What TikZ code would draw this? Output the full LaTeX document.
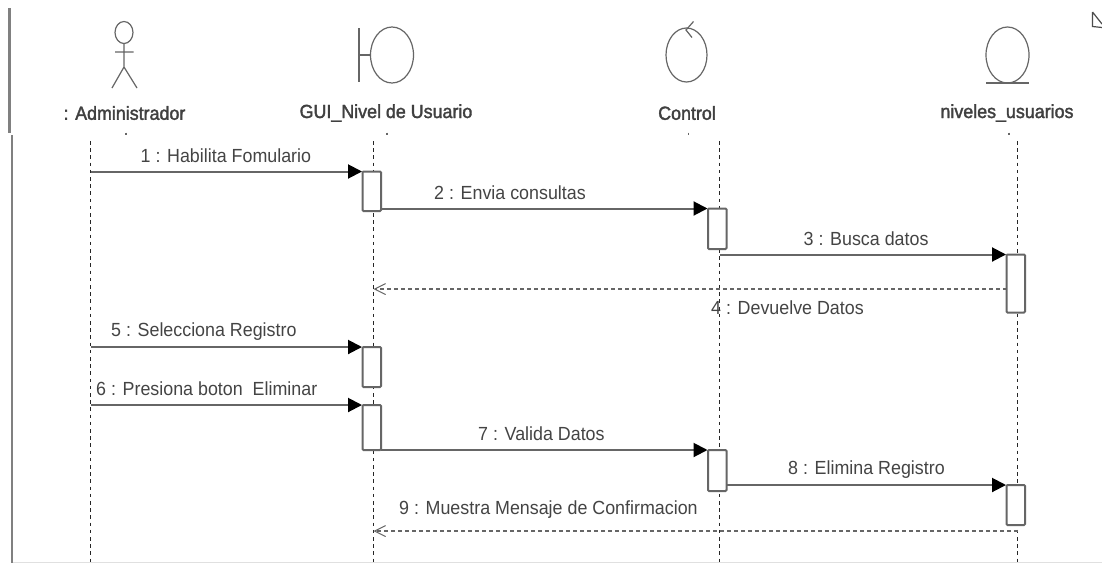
\documentclass[tikz,border=0pt]{standalone}
\usepackage{fontspec}
\setmainfont[FakeStretch=0.94]{Liberation Sans}
\newfontfamily\headfont[FakeBold=1.8,FakeStretch=0.94]{Liberation Sans}
\usetikzlibrary{arrows.meta,shapes.geometric}
\definecolor{ink}{HTML}{666666}
\definecolor{txt}{HTML}{444444}
\tikzset{
  x=1pt,y=-1pt,
  msg/.style={draw=ink,line width=2pt,-{Triangle[length=14pt,width=14pt,fill=black,color=black]},shorten >=0.5pt},
  reply/.style={draw=ink,line width=1.6pt,dash pattern=on 4pt off 3pt,-{Straight Barb[length=11pt,width=11pt,line width=1pt,color=ink]}},
  life/.style={draw=black!85,line width=1.2pt,dash pattern=on 3.6pt off 3.6pt},
  act/.style={draw=ink,line width=2pt,fill=white,rounded corners=1pt,minimum width=18.5pt,inner sep=0pt,outer sep=0pt,anchor=north west},
  lab/.style={text=txt,font=\fontsize{19}{21}\selectfont,inner sep=0pt,anchor=west},
  head/.style={text=black!75,font=\headfont\fontsize{19}{21}\selectfont,inner sep=0pt},
  sym/.style={draw=black!60,line width=1.2pt},
  frameline/.style={draw=black!50,line width=2.2pt},
  tick/.style={draw=black!60,line width=1.2pt},
}
\begin{document}
\begin{tikzpicture}
\useasboundingbox (0,0) rectangle (1102,563);
\fill[white] (0,0) rectangle (1102,563);
% frame
\coordinate (fa) at (9.5,8); \coordinate (fb) at (9.5,133);
\coordinate (fc) at (12,135); \coordinate (fd) at (12,563);
\coordinate (fe) at (13,562.3); \coordinate (ff) at (1102,562.3);
\draw[frameline] (fa) -- (fb);
\draw[frameline] (fc) -- (fd);
\draw[draw=black!12,line width=1.2pt] (fe) -- (ff);
% cursor mark
\draw[draw=black!70,line width=1.2pt] (1092.5,12) -- (1092.5,26.5) -- (1102,27.5) (1092.5,12) -- (1102,24);
% actor
\node[sym,draw,ellipse,minimum width=18pt,minimum height=22pt,inner sep=0pt] at (124,32.5) (ahead) {};
\coordinate (ahip) at (124,67); \coordinate (aarmL) at (115,52); \coordinate (aarmR) at (133.5,52);
\coordinate (alegL) at (112,88); \coordinate (alegR) at (137,88);
\draw[sym] (ahead.south) -- (ahip) (aarmL) -- (aarmR) (alegL) -- (ahip) -- (alegR);
% boundary
\node[sym,draw,ellipse,minimum width=43pt,minimum height=56pt,inner sep=0pt] at (392,55) (bcirc) {};
\coordinate (bbarT) at (359,28); \coordinate (bbarB) at (359,82); \coordinate (bbarM) at (359,55);
\draw[sym] (bbarT) -- (bbarB) (bbarM) -- (bcirc.west);
% control
\node[sym,draw,ellipse,minimum width=41pt,minimum height=54pt,inner sep=0pt] at (686.5,55) (ccirc) {};
\coordinate (ctipA) at (693.5,21.5); \coordinate (ctipB) at (686,30); \coordinate (ctipC) at (692,37.5);
\draw[sym] (ctipA) -- (ctipB) -- (ctipC);
% entity
\node[sym,draw,ellipse,minimum width=43pt,minimum height=56pt,inner sep=0pt] at (1007.5,55) (ecirc) {};
\coordinate (ebarL) at (986,83); \coordinate (ebarR) at (1028.5,83);
\draw[sym,line width=1.6pt] (ebarL) -- (ebarR);
% titles
\node[head] (t1) at (124.5,113) {: Administrador};
\node[head] (t2) at (386,113) {GUI\_Nivel de Usuario};
\node[head] (t3) at (687,113) {Control};
\node[head] (t4) at (1007,113) {niveles\_usuarios};
% ticks under titles
\coordinate (k1a) at (126,132.5); \coordinate (k1b) at (126,134.5);
\coordinate (k2a) at (387,132.5); \coordinate (k2b) at (387,134.5);
\coordinate (k3a) at (688.5,132.5); \coordinate (k3b) at (688.5,134.5);
\coordinate (k4a) at (1009,132.5); \coordinate (k4b) at (1009,134.5);
\draw[tick] (k1a)--(k1b) (k2a)--(k2b) (k3a)--(k3b) (k4a)--(k4b);
% lifelines
\coordinate (l1t) at (90.5,141); \coordinate (l1b) at (90.5,562);
\coordinate (l2t) at (373.5,141); \coordinate (l2b) at (373.5,562);
\coordinate (l3t) at (719.5,141); \coordinate (l3b) at (719.5,562);
\coordinate (l4t) at (1017.5,141); \coordinate (l4b) at (1017.5,562);
\draw[life] (l1t)--(l1b);
\draw[life] (l2t)--(l2b);
\draw[life] (l3t)--(l3b);
\draw[life] (l4t)--(l4b);
% activations
\node[act,minimum height=39.5pt] (a1) at (362.5,171.5) {};
\node[act,minimum height=40.5pt] (a2) at (708,208.5) {};
\node[act,minimum height=58pt] (a3) at (1006.5,254.5) {};
\node[act,minimum height=40pt] (a5) at (362.5,347) {};
\node[act,minimum height=45pt] (a6) at (362.5,405) {};
\node[act,minimum height=41pt] (a7) at (708,450) {};
\node[act,minimum height=40pt] (a8) at (1006.5,485) {};
% message anchors
\coordinate (m1s) at (l1t |- a1.north);
\coordinate (m5s) at (l1t |- a5.north);
\coordinate (m6s) at (l1t |- a6.north);
\coordinate (m3s) at (l3t |- a3.north);
\coordinate (m4y) at (0,289);
\coordinate (m9y) at (0,531);
% messages
\draw[msg] (m1s) -- (a1.north west);
\draw[msg] (a1.east |- a2.north) -- (a2.north west);
\draw[msg] (m3s) -- (a3.north west);
\draw[reply] (a3.west |- m4y) -- (l2t |- m4y);
\draw[msg] (m5s) -- (a5.north west);
\draw[msg] (m6s) -- (a6.north west);
\draw[msg] (a6.south east) -- (a7.north west);
\draw[msg] (a7.east |- a8.north) -- (a8.north west);
\draw[reply] (l4t |- m9y) -- (l2t |- m9y);
% labels
\node[lab] (n1) at (140.5,156) {1 : Habilita Fomulario};
\node[lab] (n2) at (434,193) {2 : Envia consultas};
\node[lab] (n3) at (803.5,239) {3 : Busca datos};
\node[lab] (n4) at (711,308) {4 : Devuelve Datos};
\node[lab] (n5) at (111,332) {5 : Selecciona Registro};
\node[lab] (n6) at (96,388.5) {6 : Presiona boton \ Eliminar};
\node[lab] (n7) at (478,434) {7 : Valida Datos};
\node[lab] (n8) at (788,470) {8 : Elimina Registro};
\node[lab] (n9) at (399,510) {9 : Muestra Mensaje de Confirmacion};
\end{tikzpicture}
\end{document}
